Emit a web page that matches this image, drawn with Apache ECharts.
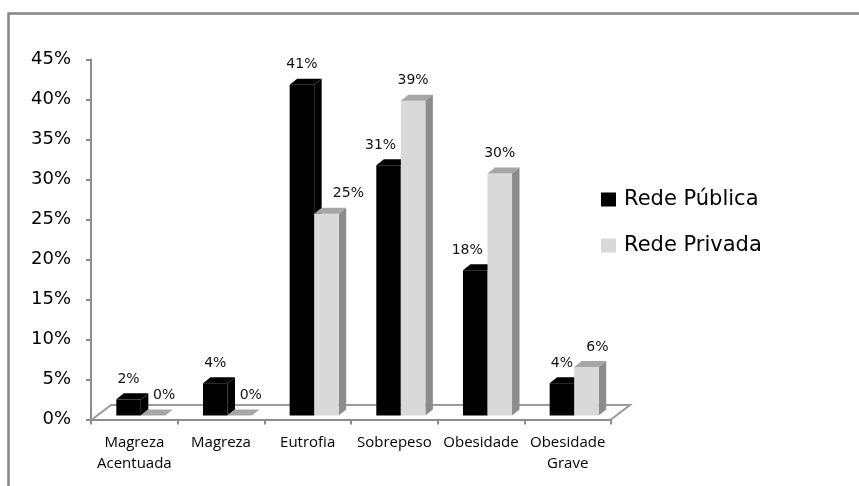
<!DOCTYPE html>
<html>
<head>
<meta charset="utf-8">
<script src="https://cdn.jsdelivr.net/npm/echarts@6/dist/echarts.min.js"></script>
<style>
html,body{margin:0;padding:0;background:#fff;}
#chart{width:859px;height:486px;}
</style>
</head>
<body>
<div id="chart"></div>
<script>
const categories = ['Magreza\nAcentuada', 'Magreza', 'Eutrofia', 'Sobrepeso', 'Obesidade', 'Obesidade\nGrave'];
const seriesNames = ['Rede Pública', 'Rede Privada'];
const publica = [2, 4, 41, 31, 18, 4];
const privada = [0, 0, 25, 39, 30, 6];
const yMin = 0, yMax = 45, yStep = 5;

const chart = echarts.init(document.getElementById('chart'));

const DX = 7.5, DY = -6;
const FRONT = ['#000000', '#d9d9d9'];
const TOPC = ['#000000', '#a6a6a6'];
const SIDEC = ['#000000', '#8c8c8c'];

// Excel-like nudging of labels away from the neighbouring bar
function labelShift(i, sideIdx) {
  if (sideIdx === 0) {
    return privada[i] > publica[i] + 5 ? -8 : 0;
  }
  if (publica[i] > privada[i] + 5) return 22;
  if (publica[i] >= privada[i] - 2) return 11;
  return 0;
}

function makeRender(sideIdx) {
  return function (params, api) {
    const i = api.value(0), v = api.value(1);
    const base = api.coord([i, 0]);
    const top = api.coord([i, v]);
    const band = api.size([1, 0])[0];
    const w = band * 0.283;
    const x0 = sideIdx === 0 ? base[0] - w : base[0];
    const x1 = x0 + w;
    const yb = base[1], yt = top[1];
    const children = [];
    if (v > 0) {
      children.push({
        type: 'polygon',
        shape: { points: [[x1, yt], [x1 + DX, yt + DY], [x1 + DX, yb + DY], [x1, yb]] },
        style: { fill: SIDEC[sideIdx] }
      });
      children.push({
        type: 'rect',
        shape: { x: x0, y: yt, width: w, height: yb - yt },
        style: { fill: FRONT[sideIdx] }
      });
    }
    children.push({
      type: 'polygon',
      shape: { points: [[x0, yt], [x0 + DX, yt + DY], [x1 + DX, yt + DY], [x1, yt]] },
      style: { fill: TOPC[sideIdx] }
    });
    children.push({
      type: 'text',
      style: {
        text: v + '%',
        x: (x0 + x1) / 2 + labelShift(i, sideIdx),
        y: yt - 20,
        align: 'center',
        verticalAlign: 'middle',
        fontFamily: 'DejaVu Sans',
        fontSize: 14,
        fill: '#111'
      }
    });
    return { type: 'group', children: children };
  };
}

function floorRender(params, api) {
  const cs = params.coordSys;
  const fx = 19, fy = -14.5;
  const x0 = cs.x + 1, x1 = cs.x + cs.width, yb = cs.y + cs.height;
  return {
    type: 'polyline',
    shape: { points: [[x0, yb], [x0 + fx, yb + fy], [x1 + fx, yb + fy], [x1, yb]] },
    style: { stroke: '#9a9a9a', lineWidth: 2, fill: null }
  };
}

const option = {
  backgroundColor: '#fff',
  animation: false,
  graphic: [{
    type: 'rect',
    shape: { x: 8.5, y: 13.5, width: 1000, height: 1000 },
    style: { fill: null, stroke: '#868686', lineWidth: 2.5 },
    silent: true
  }],
  legend: {
    orient: 'vertical',
    left: 596,
    top: 184,
    itemWidth: 15,
    itemHeight: 14,
    itemGap: 25,
    icon: 'rect',
    data: seriesNames,
    textStyle: { fontFamily: 'DejaVu Sans', fontSize: 21, color: '#000', lineHeight: 20, padding: [0, 0, 0, 3] }
  },
  grid: [
    { left: 91, top: 59.5, width: 520, bottom: 66.5 },
    { left: 97.5, top: 415.5 - 45 * 8.07, width: 520, bottom: 70.5 }
  ],
  xAxis: [
    {
      gridIndex: 0,
      type: 'category',
      data: categories,
      boundaryGap: true,
      axisLine: { show: true, lineStyle: { color: '#8c8c8c', width: 2 } },
      axisTick: { show: true, length: 5, lineStyle: { color: '#8c8c8c', width: 2 } },
      axisLabel: { margin: 13, fontFamily: 'Open Sans', fontSize: 15, lineHeight: 21, color: '#000', interval: 0 }
    },
    {
      gridIndex: 1,
      type: 'category',
      data: categories,
      show: false
    }
  ],
  yAxis: [
    {
      gridIndex: 0,
      type: 'value',
      min: yMin, max: yMax, interval: yStep,
      axisLine: { show: true, lineStyle: { color: '#8c8c8c', width: 2 } },
      axisTick: { show: true, length: 5, lineStyle: { color: '#8c8c8c', width: 2 } },
      splitLine: { show: false },
      axisLabel: { formatter: '{value}%', margin: 20, fontFamily: 'DejaVu Sans', fontSize: 18, color: '#000', padding: [4, 0, 0, 0] }
    },
    {
      gridIndex: 1,
      type: 'value',
      min: yMin, max: yMax,
      show: false,
      splitLine: { show: false }
    }
  ],
  series: [
    {
      type: 'custom',
      name: 'floor',
      xAxisIndex: 0, yAxisIndex: 0,
      data: [[0, 0]],
      renderItem: floorRender,
      silent: true,
      z: 1
    },
    {
      type: 'custom',
      name: seriesNames[0],
      xAxisIndex: 1, yAxisIndex: 1,
      itemStyle: { color: FRONT[0] },
      data: publica.map((v, i) => [i, v]),
      renderItem: makeRender(0),
      z: 3
    },
    {
      type: 'custom',
      name: seriesNames[1],
      xAxisIndex: 1, yAxisIndex: 1,
      itemStyle: { color: FRONT[1] },
      data: privada.map((v, i) => [i, v]),
      renderItem: makeRender(1),
      z: 4
    }
  ]
};
chart.setOption(option);
</script>
</body>
</html>
